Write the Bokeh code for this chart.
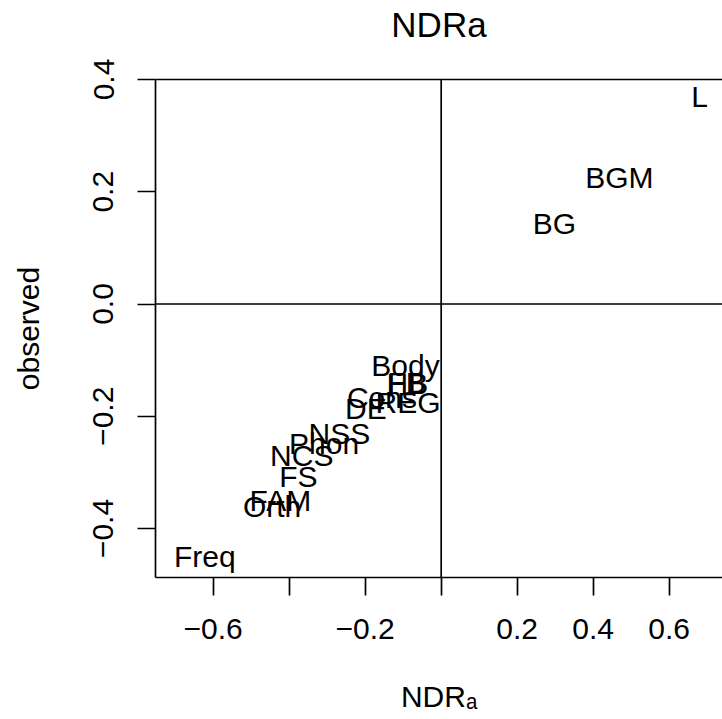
from bokeh.plotting import figure
from bokeh.models import ColumnDataSource, Span, LinearAxis, FixedTicker, Range1d
from bokeh.core.properties import value
from bokeh.embed import file_html
from bokeh.resources import INLINE

# ---- data ----
labels = ["L", "BGM", "BG", "Body", "HB", "FB", "Cons", "REG", "DE", "NSS",
          "Phon", "NCS", "FS", "FAM", "Orth", "Freq"]
ndr_a = [0.680, 0.469, 0.298, -0.094, -0.089, -0.091, -0.156, -0.087, -0.198, -0.268,
         -0.308, -0.367, -0.376, -0.423, -0.445, -0.622]
observed = [0.370, 0.226, 0.143, -0.109, -0.141, -0.139, -0.166, -0.176, -0.186, -0.230,
            -0.249, -0.270, -0.307, -0.350, -0.361, -0.450]

x_ticks = [-0.6, -0.4, -0.2, 0.0, 0.2, 0.4, 0.6]
x_tick_labels = ["\u22120.6", "", "\u22120.2", "", "0.2", "0.4", "0.6"]
y_ticks = [-0.4, -0.2, 0.0, 0.2, 0.4]
y_tick_labels = ["\u22120.4", "\u22120.2", "0.0", "0.2", "0.4"]

TITLE = "NDRa"
FONT = "Liberation Sans"
LW = 1.7
FS = "30px"

p = figure(width=722, height=719, output_backend="svg", toolbar_location=None, title=None,
           x_range=Range1d(-0.7518, 0.7403), y_range=Range1d(-0.4873, 0.400),
           min_border_left=155, min_border_right=0, min_border_top=79, min_border_bottom=142)
p.grid.visible = False
p.outline_line_color = None
p.background_fill_color = "white"
p.border_fill_color = "white"

# x axis
xa = p.xaxis[0]
xa.ticker = FixedTicker(ticks=x_ticks)
xa.major_label_overrides = {t: l for t, l in zip(x_ticks, x_tick_labels)}
xa.minor_tick_line_color = None
xa.major_tick_out = 18
xa.major_tick_in = 0
xa.axis_line_width = LW
xa.major_tick_line_width = LW
xa.axis_line_color = "black"
xa.major_tick_line_color = "black"
xa.major_label_text_font = FONT
xa.major_label_text_font_size = FS
xa.major_label_text_color = "black"
xa.major_label_standoff = 23
xa.axis_label = "NDR\u2090"
xa.axis_label_text_font = FONT
xa.axis_label_text_font_size = FS
xa.axis_label_text_font_style = "normal"
xa.axis_label_text_color = "black"
xa.axis_label_standoff = 38

# y axis
ya = p.yaxis[0]
ya.ticker = FixedTicker(ticks=y_ticks)
ya.major_label_overrides = {t: l for t, l in zip(y_ticks, y_tick_labels)}
ya.minor_tick_line_color = None
ya.major_tick_out = 18
ya.major_tick_in = 0
ya.axis_line_width = LW
ya.major_tick_line_width = LW
ya.axis_line_color = "black"
ya.major_tick_line_color = "black"
ya.major_label_text_font = FONT
ya.major_label_text_font_size = FS
ya.major_label_text_color = "black"
ya.major_label_orientation = "vertical"
ya.major_label_standoff = 24
ya.axis_label = "observed"
ya.axis_label_text_font = FONT
ya.axis_label_text_font_size = FS
ya.axis_label_text_font_style = "normal"
ya.axis_label_text_color = "black"
ya.axis_label_standoff = 46

# top border, carrying the chart title
top = LinearAxis(ticker=FixedTicker(ticks=[]), axis_line_width=LW, axis_line_color="black",
                 major_tick_out=0, major_tick_in=0, minor_tick_out=0, minor_tick_in=0,
                 major_label_text_font_size="0px",
                 axis_label=TITLE, axis_label_text_font=FONT, axis_label_text_font_size="35px",
                 axis_label_text_font_style="normal", axis_label_text_color="black",
                 axis_label_standoff=36)
p.add_layout(top, "above")

# reference lines
p.add_layout(Span(location=0, dimension="height", line_color="black", line_width=LW))
p.add_layout(Span(location=0, dimension="width", line_color="black", line_width=LW))

# point labels
src = ColumnDataSource(dict(x=ndr_a, y=observed, t=labels))
p.text(x="x", y="y", text="t", source=src, text_font=value(FONT), text_font_size=FS,
       text_align="center", text_baseline="middle", text_color="black")

open("out.html", "w").write(file_html(p, INLINE))
